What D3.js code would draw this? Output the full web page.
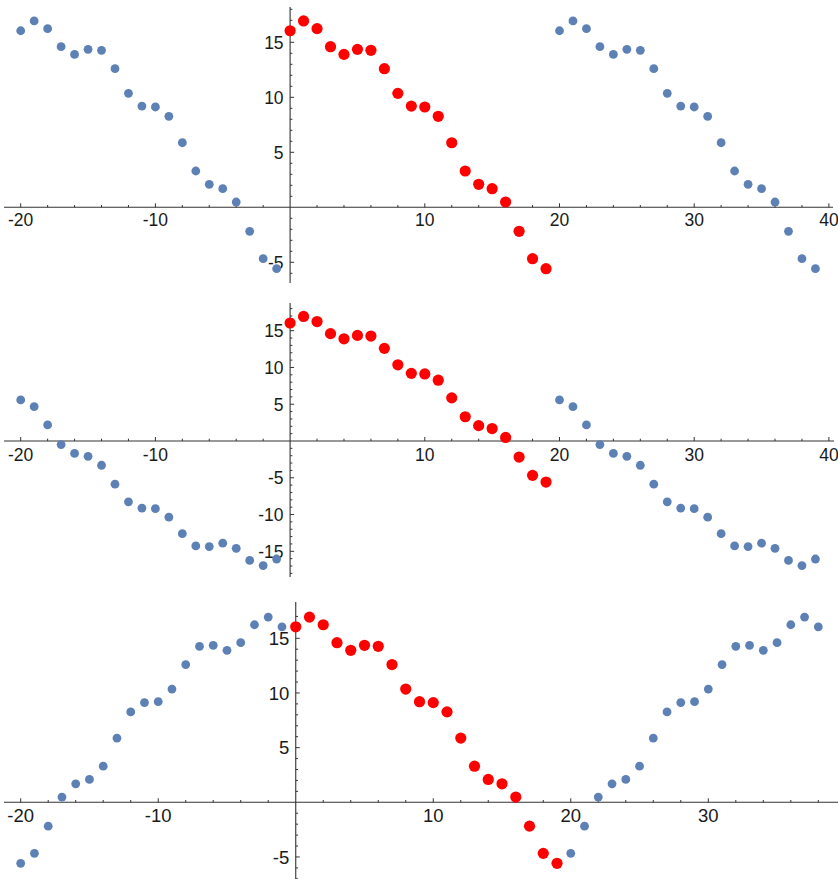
<!DOCTYPE html>
<html>
<head>
<meta charset="utf-8">
<script src="https://cdn.jsdelivr.net/npm/d3@7"></script>
<style>
  html, body { margin: 0; padding: 0; background: #fff; }
  svg { display: block; }
  text { font-family: "Liberation Sans", Arial, sans-serif; fill: #1a1a1a; }
</style>
</head>
<body>
<svg id="chart" width="838" height="879"></svg>
<script>
// ---- data ----
const redX = [0,1,2,3,4,5,6,7,8,9,10,11,12,13,14,15,16,17,18,19];
const redY = [16.05,16.94,16.24,14.6,13.9,14.36,14.27,12.6,10.36,9.2,9.12,8.27,5.87,3.3,2.09,1.69,0.48,-2.18,-4.67,-5.58];

// panel 1: periodic copies
const p1LeftX  = [-20,-19,-18,-17,-16,-15,-14,-13,-12,-11,-10,-9,-8,-7,-6,-5,-4,-3,-2,-1];
const p1LeftY  = [16.05,16.94,16.24,14.6,13.9,14.36,14.27,12.6,10.36,9.2,9.12,8.27,5.87,3.3,2.09,1.69,0.48,-2.18,-4.67,-5.58];
const p1RightX = [20,21,22,23,24,25,26,27,28,29,30,31,32,33,34,35,36,37,38,39];
const p1RightY = [16.05,16.94,16.24,14.6,13.9,14.36,14.27,12.6,10.36,9.2,9.12,8.27,5.87,3.3,2.09,1.69,0.48,-2.18,-4.67,-5.58];

// panel 2: odd copies
const p2LeftX  = [-20,-19,-18,-17,-16,-15,-14,-13,-12,-11,-10,-9,-8,-7,-6,-5,-4,-3,-2,-1];
const p2LeftY  = [5.58,4.67,2.18,-0.48,-1.69,-2.09,-3.3,-5.87,-8.27,-9.12,-9.2,-10.36,-12.6,-14.27,-14.36,-13.9,-14.6,-16.24,-16.94,-16.05];
const p2RightX = [20,21,22,23,24,25,26,27,28,29,30,31,32,33,34,35,36,37,38,39];
const p2RightY = [5.58,4.67,2.18,-0.48,-1.69,-2.09,-3.3,-5.87,-8.27,-9.12,-9.2,-10.36,-12.6,-14.27,-14.36,-13.9,-14.6,-16.24,-16.94,-16.05];

// panel 3: even copies
const p3LeftX  = [-20,-19,-18,-17,-16,-15,-14,-13,-12,-11,-10,-9,-8,-7,-6,-5,-4,-3,-2,-1];
const p3LeftY  = [-5.58,-4.67,-2.18,0.48,1.69,2.09,3.3,5.87,8.27,9.12,9.2,10.36,12.6,14.27,14.36,13.9,14.6,16.24,16.94,16.05];
const p3RightX = [20,21,22,23,24,25,26,27,28,29,30,31,32,33,34,35,36,37,38];
const p3RightY = [-4.67,-2.18,0.48,1.69,2.09,3.3,5.87,8.27,9.12,9.2,10.36,12.6,14.27,14.36,13.9,14.6,16.24,16.94,16.05];

// tick labels
const p1XTicks = [-20,-10,10,20,30,40];
const p1YTicks = [-5,5,10,15];
const p2XTicks = [-20,-10,10,20,30,40];
const p2YTicks = [-15,-10,-5,5,10,15];
const p3XTicks = [-20,-10,10,20,30];
const p3YTicks = [-5,5,10,15];

// ---- drawing ----
const svg = d3.select("#chart");
const BLUE = "#5E81B5", RED = "#FF0000", AXIS = "#333";

const panels = [
  { blue: [[p1LeftX,p1LeftY],[p1RightX,p1RightY]], xt: p1XTicks, yt: p1YTicks,
    xDom: [-20,40], xRng: [20.7,828.9], yDom: [0,15], yRng: [207.3,42.3],
    xLine: [4,833], yLine: [7,283], xMinor: d3.range(-20,41,2), yMinor: d3.range(-6,19,1), fs: 17.5, dy: 19 },
  { blue: [[p2LeftX,p2LeftY],[p2RightX,p2RightY]], xt: p2XTicks, yt: p2YTicks,
    xDom: [-20,40], xRng: [20.7,828.9], yDom: [0,15], yRng: [441,330.7],
    xLine: [4,834], yLine: [303,577], xMinor: d3.range(-20,41,2), yMinor: d3.range(-18,19,1), fs: 17.5, dy: 19.5 },
  { blue: [[p3LeftX,p3LeftY],[p3RightX,p3RightY]], xt: p3XTicks, yt: p3YTicks,
    xDom: [-20,30], xRng: [20.7,708.3], yDom: [0,15], yRng: [802.3,638.3],
    xLine: [4,838], yLine: [602,879], xMinor: d3.range(-20,39,2), yMinor: d3.range(-7,18,1), fs: 18.5, dy: 20 }
];

panels.forEach(p => {
  const x = d3.scaleLinear().domain(p.xDom).range(p.xRng);
  const y = d3.scaleLinear().domain(p.yDom).range(p.yRng);
  const g = svg.append("g");
  const x0 = x(0), y0 = y(0);

  // axes lines
  g.append("line").attr("x1", p.xLine[0]).attr("x2", p.xLine[1]).attr("y1", y0).attr("y2", y0)
    .attr("stroke", AXIS).attr("stroke-width", 1.1);
  g.append("line").attr("x1", x0).attr("x2", x0).attr("y1", p.yLine[0]).attr("y2", p.yLine[1])
    .attr("stroke", AXIS).attr("stroke-width", 1.1);

  // x ticks (upward)
  g.selectAll(".xm").data(p.xMinor.filter(v => v !== 0)).enter().append("line")
    .attr("x1", d => x(d)).attr("x2", d => x(d))
    .attr("y1", y0).attr("y2", d => y0 - (d % 10 === 0 ? 4 : 2.3))
    .attr("stroke", AXIS).attr("stroke-width", 1);
  // y ticks (rightward)
  g.selectAll(".ym").data(p.yMinor.filter(v => v !== 0)).enter().append("line")
    .attr("x1", x0).attr("x2", d => x0 + (d % 5 === 0 ? 4 : 2.3))
    .attr("y1", d => y(d)).attr("y2", d => y(d))
    .attr("stroke", AXIS).attr("stroke-width", 1);

  // labels
  g.selectAll(".xl").data(p.xt).enter().append("text")
    .attr("x", d => x(d)).attr("y", y0 + p.dy)
    .attr("text-anchor", "middle").attr("font-size", p.fs).text(d => d);
  g.selectAll(".yl").data(p.yt).enter().append("text")
    .attr("x", x0 - 6.5).attr("y", d => y(d)).attr("dy", "0.36em")
    .attr("text-anchor", "end").attr("font-size", p.fs).text(d => d);

  // blue points
  p.blue.forEach(([xs, ys]) => {
    g.selectAll(null).data(xs.map((v, i) => [v, ys[i]])).enter().append("circle")
      .attr("cx", d => x(d[0])).attr("cy", d => y(d[1])).attr("r", 4.4).attr("fill", BLUE);
  });
  // red points
  g.selectAll(null).data(redX.map((v, i) => [v, redY[i]])).enter().append("circle")
    .attr("cx", d => x(d[0])).attr("cy", d => y(d[1])).attr("r", 5.6).attr("fill", RED);
});
</script>
</body>
</html>
